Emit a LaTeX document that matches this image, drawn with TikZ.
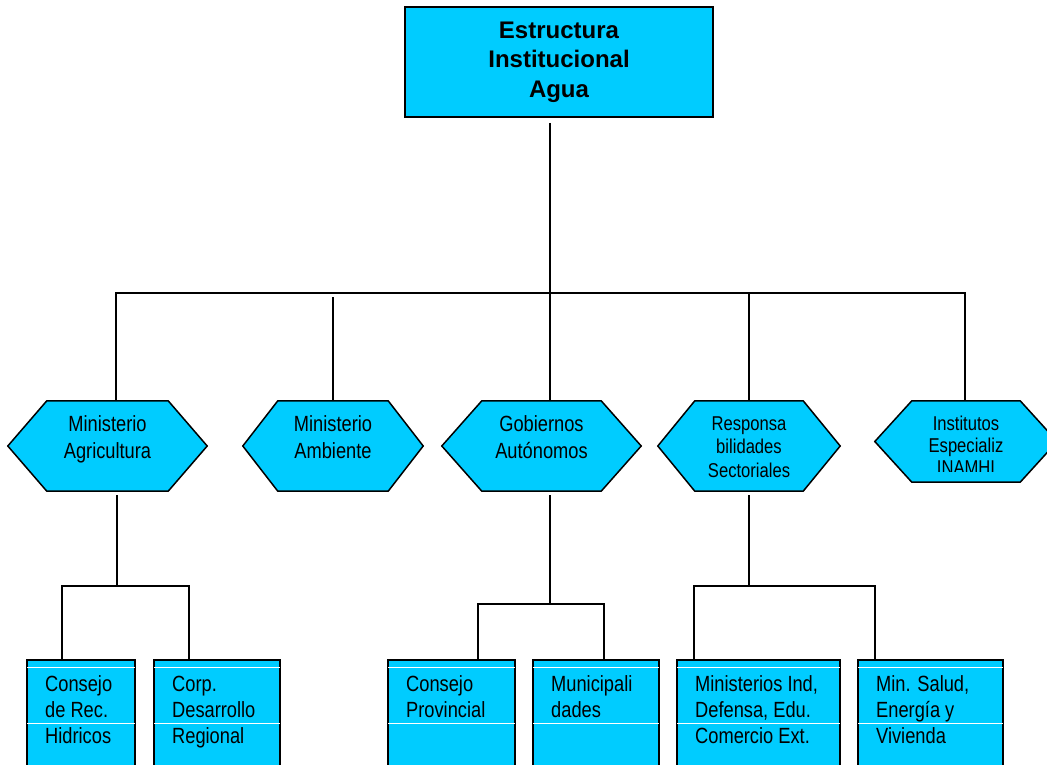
\documentclass[tikz,border=0pt]{standalone}
\usepackage{fontspec}
\setmainfont{Liberation Sans}
\newfontfamily\narrowfont{Liberation Sans}[FakeStretch=0.83]
\definecolor{boxcyan}{RGB}{0,204,255}
\tikzset{
  conn/.style={draw=black, line width=1.5pt},
  topbox/.style={draw=black, line width=2pt, fill=boxcyan, minimum width=308pt, minimum height=110pt, inner sep=0pt, align=center, font=\bfseries\fontsize{24}{29.5}\selectfont},
  hexnode/.style={draw=none, inner sep=0pt, shape=rectangle},
  hexline/.style={draw=black, line width=1.5pt, fill=boxcyan, line join=miter},
  htext/.style={inner sep=0pt, align=center, anchor=north, font=\narrowfont\fontsize{22}{27}\selectfont},
  htextsmall/.style={htext, font=\narrowfont\fontsize{20}{23.5}\selectfont},
  lowbox/.style={draw=black, line width=2pt, fill=boxcyan, anchor=north west, minimum height=160pt, inner sep=0pt},
  whiteline/.style={draw=white, line width=0.8pt},
  btext/.style={inner sep=0pt, align=left, anchor=north west, font=\narrowfont\fontsize{22}{26}\selectfont},
}
\newcommand{\hexshape}[6]{%
  \node[hexnode, minimum width=#4pt, minimum height=#5pt] (#1) at (#2,#3) {};
  \draw[hexline] (#1.west) -- ([xshift=#6pt]#1.north west) -- ([xshift=-#6pt]#1.north east)
    -- (#1.east) -- ([xshift=-#6pt]#1.south east) -- ([xshift=#6pt]#1.south west) -- cycle;
}
\newcommand{\lowbox}[4]{%
  \node[lowbox, minimum width=#3pt] (#1) at (#2,658.5) {};
  \draw[whiteline] ([xshift=1pt,yshift=-8.5pt]#1.north west) -- ([xshift=-1pt,yshift=-8.5pt]#1.north east);
  \draw[whiteline] ([xshift=1pt,yshift=-64.5pt]#1.north west) -- ([xshift=-1pt,yshift=-64.5pt]#1.north east);
  \node[btext] (#1t) at ([xshift=19pt,yshift=-17pt]#1.north west) {#4};
}
\begin{document}
\begin{tikzpicture}[x=1pt,y=-1pt]
\useasboundingbox (0,0) rectangle (1047,765);
\clip (0,0) rectangle (1047,765);

% top box
\node[topbox] (T) at (559,62) {Estructura\\Institucional\\Agua};

% hexagons
\hexshape{h1}{107.5}{446}{199}{90}{39}
\hexshape{h2}{333}{446}{180}{90}{35}
\hexshape{h3}{541.5}{446}{199}{90}{40}
\hexshape{h4}{749}{446}{182}{90}{37}
\hexshape{h5}{966}{441.5}{182}{81}{37}

\node[htext] (h1t) at ([yshift=-15pt]h1.north) {Ministerio\\Agricultura};
\node[htext] (h2t) at ([yshift=-15pt]h2.north) {Ministerio\\Ambiente};
\node[htext] (h3t) at ([yshift=-15pt]h3.north) {Gobiernos\\Autónomos};
\node[htextsmall] (h4t) at ([yshift=-15.5pt]h4.north) {Responsa\\bilidades\\Sectoriales};
\begin{scope}
  \clip (875,401) rectangle (1047,471.5);
  \node[htextsmall, font=\narrowfont\fontsize{20}{22}\selectfont] (h5t) at ([yshift=-15.5pt]h5.north) {Institutos\\Especializ\\INAMHI};
\end{scope}

% bus coordinates
\coordinate (bus) at (550,293);
\coordinate (a1) at (116,293);
\coordinate (a2) at (333,297);
\coordinate (a4) at (749,293);
\coordinate (a5) at (965,293);

\draw[conn] ([yshift=-5pt]T.south -| bus) -- (bus);
\draw[conn] (a1 |- h1.north) -- (a1) -- (a5) -- (a5 |- h5.north);
\draw[conn] (bus) -- (bus |- h3.north);
\draw[conn] (a2) -- (a2 |- h2.north);
\draw[conn] (a4) -- (a4 |- h4.north);

% lower boxes
\lowbox{b1}{26}{108}{Consejo\\de Rec.\\Hidricos}
\lowbox{b2}{153}{126}{Corp.\\Desarrollo\\Regional}
\lowbox{b3}{387}{127}{Consejo\\Provincial}
\lowbox{b4}{532}{126}{Municipali\\dades}
\lowbox{b5}{676}{163}{Ministerios Ind,\\Defensa, Edu.\\Comercio Ext.}
\lowbox{b6}{857}{145}{Min. Salud,\\Energía y\\Vivienda}

% lower connectors
\coordinate (s1) at (117,586);
\coordinate (c1) at (62,586);
\coordinate (c2) at (189,586);
\draw[conn] ([yshift=-4pt]h1.south -| s1) -- (s1);
\draw[conn] (c1 |- b1.north) -- (c1) -- (c2) -- (c2 |- b2.north);

\coordinate (s3) at (550,604);
\coordinate (c3) at (478,604);
\coordinate (c4) at (604,604);
\draw[conn] ([yshift=-4pt]h3.south -| s3) -- (s3);
\draw[conn] (c3 |- b3.north) -- (c3) -- (c4) -- (c4 |- b4.north);

\coordinate (s4) at (749,586);
\coordinate (c5) at (694,586);
\coordinate (c6) at (875,586);
\draw[conn] ([yshift=-4pt]h4.south -| s4) -- (s4);
\draw[conn] (c5 |- b5.north) -- (c5) -- (c6) -- (c6 |- b6.north);
\end{tikzpicture}
\end{document}
